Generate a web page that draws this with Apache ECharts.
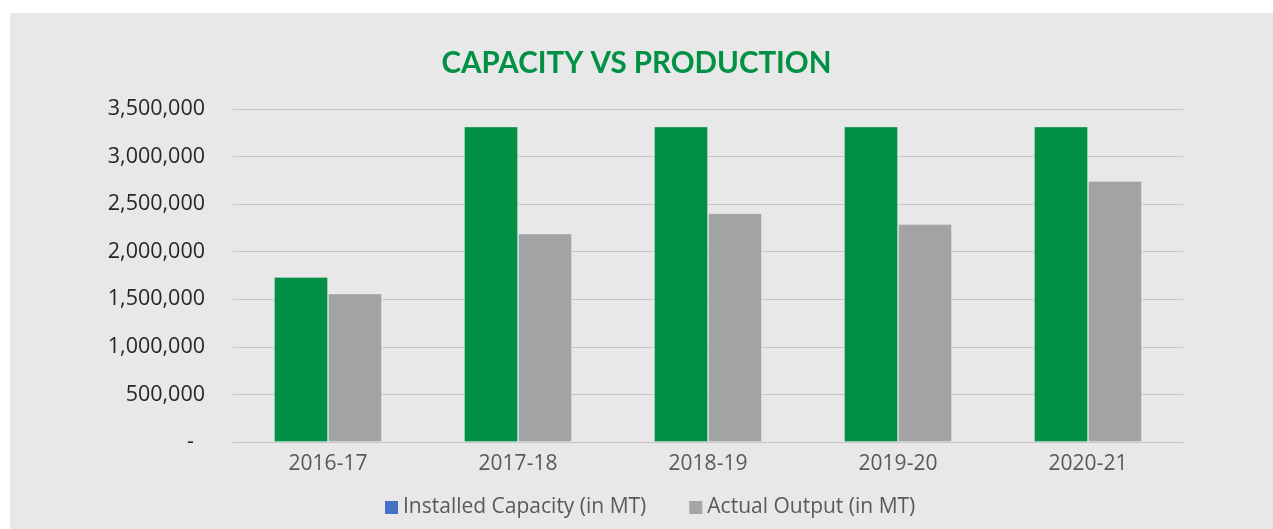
<!DOCTYPE html>
<html>
<head>
<meta charset="utf-8">
<script src="https://cdn.jsdelivr.net/npm/echarts@6/dist/echarts.min.js"></script>
<style>
  html, body { margin: 0; padding: 0; background: #ffffff; }
  /* gray panel behind the chart */
  .panel {
    position: absolute; left: 10px; top: 13px; right: 0; bottom: 0;
    background: #e8e8e8;
  }
  #main { position: absolute; left: 0; top: 0; width: 1273px; height: 529px; }
</style>
</head>
<body>
<div class="panel"></div>
<div id="main"></div>
<script>
// 数据
var years = ["2016-17", "2017-18", "2018-19", "2019-20", "2020-21"];
var installedCapacity = [1735000, 3315000, 3315000, 3315000, 3315000];
var actualOutput = [1560000, 2192000, 2405000, 2290000, 2744000];
var seriesNames = ["Installed Capacity (in MT)", "Actual Output (in MT)"];

var myChart = echarts.init(document.getElementById("main"));

myChart.setOption({
  backgroundColor: "transparent",
  title: {
    text: "CAPACITY VS PRODUCTION",
    left: "center",
    top: 43,
    textStyle: {
      fontFamily: "Lato",
      fontWeight: "bold",
      fontSize: 29.5,
      color: "#009145"
    }
  },
  legend: {
    bottom: 6,
    left: 380,
    itemWidth: 13,
    itemHeight: 13,
    itemGap: 43,
    icon: "rect",
    textStyle: { fontFamily: "Open Sans", fontSize: 21, color: "#595959" },
    data: [
      { name: seriesNames[0], itemStyle: { color: "#4472c4", borderWidth: 0 } },
      { name: seriesNames[1], itemStyle: { color: "#a5a5a5", borderWidth: 0 } }
    ]
  },
  grid: {
    left: 233,
    right: 90,
    top: 109,
    bottom: 87
  },
  xAxis: {
    type: "category",
    data: years,
    axisTick: { show: false },
    axisLine: { lineStyle: { color: "#c6c6c6", width: 1 } },
    axisLabel: {
      fontFamily: "Open Sans",
      fontSize: 21,
      color: "#595959",
      margin: 12
    }
  },
  yAxis: {
    type: "value",
    min: 0,
    max: 3500000,
    interval: 500000,
    axisLine: { show: false },
    axisTick: { show: false },
    splitLine: { lineStyle: { color: "#c6c6c6", width: 1 } },
    axisLabel: {
      fontFamily: "Open Sans",
      fontSize: 21.5,
      color: "#262626",
      margin: 28,
      formatter: function (v) {
        if (v === 0) return "-  ";
        return v.toLocaleString("en-US");
      }
    }
  },
  series: [
    {
      name: seriesNames[0],
      type: "bar",
      data: installedCapacity,
      barWidth: 54,
      barGap: "0%",
      itemStyle: { color: "#008f45", borderColor: "rgba(255,255,255,0.25)", borderWidth: 1 }
    },
    {
      name: seriesNames[1],
      type: "bar",
      data: actualOutput,
      barWidth: 54,
      barGap: "0%",
      itemStyle: { color: "#a2a3a5", borderColor: "rgba(255,255,255,0.25)", borderWidth: 1 }
    }
  ]
});
</script>
</body>
</html>
